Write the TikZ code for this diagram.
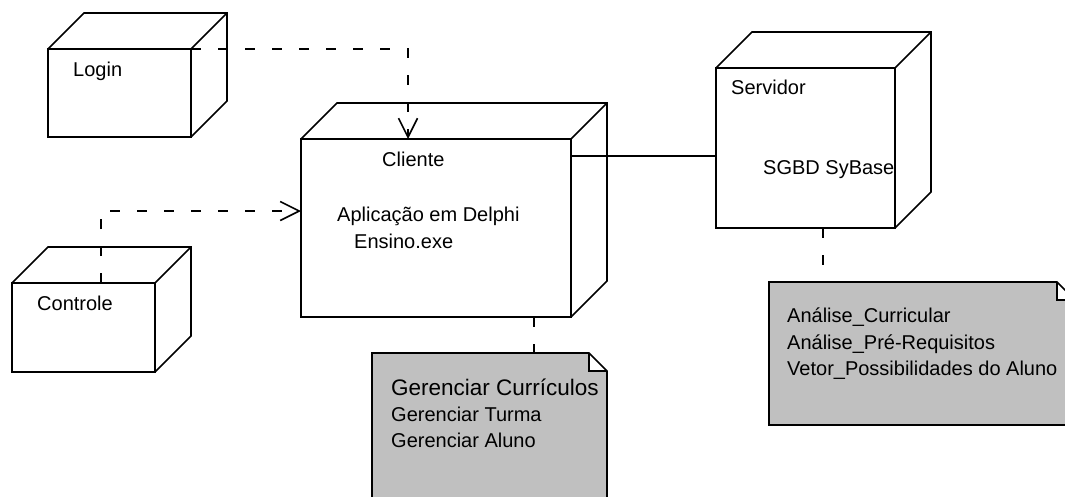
\documentclass[tikz,border=0pt]{standalone}
\usepackage{fontspec}
\setmainfont{Liberation Sans}
\usetikzlibrary{calc}
\usetikzlibrary{arrows.meta}
\usetikzlibrary{positioning}

\definecolor{notegray}{RGB}{192,192,192}

\tikzset{
  nodebox/.style={draw, line width=1.6pt, inner sep=0pt, outer sep=0pt, anchor=north west},
  notebox/.style={inner sep=0pt, outer sep=0pt, anchor=north west},
  lbl/.style={anchor=base west, inner sep=0pt, font=\fontsize{20}{24}\selectfont},
  link/.style={line width=1.6pt, dash pattern=on 10pt off 17pt},
  dep/.style={link, -{Straight Barb[length=19pt, width=19pt, line width=1.6pt]}},
}

\begin{document}
\begin{tikzpicture}[x=1pt, y=-1pt]
    \useasboundingbox (0,0) rectangle (1065,496);
    \clip (0,0) rectangle (1065,496);

    % nodes (front faces)
    \node[nodebox, minimum width=143pt, minimum height=88pt] (login) at (48,49) {};
    \node[nodebox, minimum width=143pt, minimum height=89pt] (controle) at (12,283) {};
    \node[nodebox, minimum width=270pt, minimum height=178pt] (cliente) at (301,139) {};
    \node[nodebox, minimum width=179pt, minimum height=160pt] (servidor) at (716,68) {};

    % depth of the boxes
    \foreach \n in {login,controle,cliente,servidor}
      \draw[line width=1.6pt]
        (\n.north west) -- ++(36,-36) -| ($(\n.south east)+(36,-36)$) -- (\n.south east)
        (\n.north east) -- ++(36,-36);

    \node[lbl] at ($(login.north west)+(25,27)$) {Login};
    \node[lbl] at ($(controle.north west)+(25,27)$) {Controle};
    \node[lbl] at ($(cliente.north west)+(81,27)$) {Cliente};
    \node[lbl] at ($(cliente.north west)+(36,82)$) {Aplicação em Delphi};
    \node[lbl] at ($(cliente.north west)+(53,109)$) {Ensino.exe};
    \node[lbl] at ($(servidor.north west)+(15,26)$) {Servidor};
    \node[lbl] at ($(servidor.north west)+(47,106)$) {SGBD SyBase};

    % notes
    \node[notebox, minimum width=235pt, minimum height=160pt] (tarefas) at (372,353) {};
    \node[notebox, minimum width=306pt, minimum height=143pt] (analise) at (769,282) {};
    \foreach \n in {tarefas,analise}
      \draw[line width=1.6pt, fill=notegray]
        (\n.north west) -- ([xshift=-18pt]\n.north east) -- ([yshift=-18pt]\n.north east)
        -- (\n.south east) -- (\n.south west) -- cycle
        ([xshift=-18pt]\n.north east) |- ([yshift=-18pt]\n.north east);

    \node[lbl, font=\fontsize{22.5}{27}\selectfont] at ($(tarefas.north west)+(19,42)$) {Gerenciar Currículos};
    \node[lbl] at ($(tarefas.north west)+(19,68)$) {Gerenciar Turma};
    \node[lbl] at ($(tarefas.north west)+(19,94)$) {Gerenciar Aluno};
    \node[lbl] at ($(analise.north west)+(18,40)$) {Análise\_Curricular};
    \node[lbl] at ($(analise.north west)+(18,67)$) {Análise\_Pré-Requisitos};
    \node[lbl] at ($(analise.north west)+(18,93)$) {Vetor\_Possibilidades do Aluno};

    % connectors
    \draw[dep] (login.north east) -| ([xshift=107pt]cliente.north west);
    \draw[dep] ([xshift=89pt]controle.north west) |- ([yshift=-72pt]cliente.north west);
    \coordinate (ligacao) at ([yshift=-17pt]cliente.north east);
    \draw[line width=1.6pt] (ligacao) -- (ligacao -| servidor.west);
    \coordinate (notacli) at ([xshift=233pt]cliente.south west);
    \draw[link] (notacli) -- (notacli |- tarefas.north);
    \coordinate (notaserv) at ([xshift=107pt]servidor.south west);
    \draw[link] (notaserv) -- (notaserv |- analise.north);

  \end{tikzpicture}
\end{document}
